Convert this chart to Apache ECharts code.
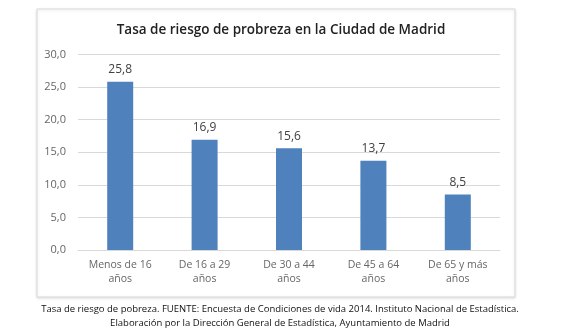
<!DOCTYPE html>
<html><head><meta charset="utf-8">
<script src="https://cdn.jsdelivr.net/npm/echarts@6/dist/echarts.min.js"></script>
<style>html,body{margin:0;padding:0;background:#fff}#c{width:561px;height:336px}</style>
</head><body><div id="c"></div>
<script>
const categories = ['Menos de 16\naños', 'De 16 a 29\naños', 'De 30 a 44\naños', 'De 45 a 64\naños', 'De 65 y más\naños'];
const values = [25.8, 16.9, 15.6, 13.7, 8.5];
const yTicks = [0, 5, 10, 15, 20, 25, 30];
const titleText = 'Tasa de riesgo de probreza en la Ciudad de Madrid';
const captionLines = ['Tasa de riesgo de pobreza. FUENTE: Encuesta de Condiciones de vida 2014. Instituto Nacional de Estadística.',
  'Elaboración por la Dirección General de Estadística, Ayuntamiento de Madrid'];

const fmt = v => v.toFixed(1).replace('.', ',');
const chart = echarts.init(document.getElementById('c'), null, {renderer: 'canvas'});
chart.setOption({
  animation: false,
  textStyle: {fontFamily: 'Open Sans'},
  graphic: [
    {type: 'rect', shape: {x: 37, y: 9, width: 478, height: 288},
     style: {fill: '#fff', stroke: '#d9d9d9', lineWidth: 1, shadowBlur: 3, shadowColor: 'rgba(0,0,0,0.12)', shadowOffsetY: 1}, z: -10},
    {type: 'text', x: 280, y: 304, style: {text: captionLines[0], fontSize: 9.5, fill: '#111', align: 'center', verticalAlign: 'top', fontFamily: 'Open Sans'}},
    {type: 'text', x: 280, y: 318, style: {text: captionLines[1], fontSize: 9.5, fill: '#111', align: 'center', verticalAlign: 'top', fontFamily: 'Open Sans'}}
  ],
  title: {text: titleText, left: 276, top: 18, textAlign: 'center',
    textStyle: {fontSize: 13.5, fontWeight: 600, color: '#222', fontFamily: 'Open Sans'}},
  grid: {left: 78, right: 61, top: 54.4, bottom: 86},
  xAxis: {type: 'category', data: categories,
    axisLine: {lineStyle: {color: '#d9d9d9'}}, axisTick: {show: false},
    axisLabel: {color: '#666', fontSize: 10.5, lineHeight: 14, margin: 8, interval: 0}},
  yAxis: {type: 'value', min: yTicks[0], max: yTicks[yTicks.length - 1], interval: 5,
    axisLine: {show: false}, axisTick: {show: false},
    splitLine: {lineStyle: {color: '#d9d9d9'}},
    axisLabel: {color: '#666', fontSize: 11, margin: 12, formatter: fmt}},
  series: [{type: 'bar', data: values, barWidth: 26,
    itemStyle: {color: '#4f81bd'},
    label: {show: true, position: 'top', color: '#404040', fontSize: 12, distance: 6, formatter: p => fmt(p.value)}}]
});
</script></body></html>
